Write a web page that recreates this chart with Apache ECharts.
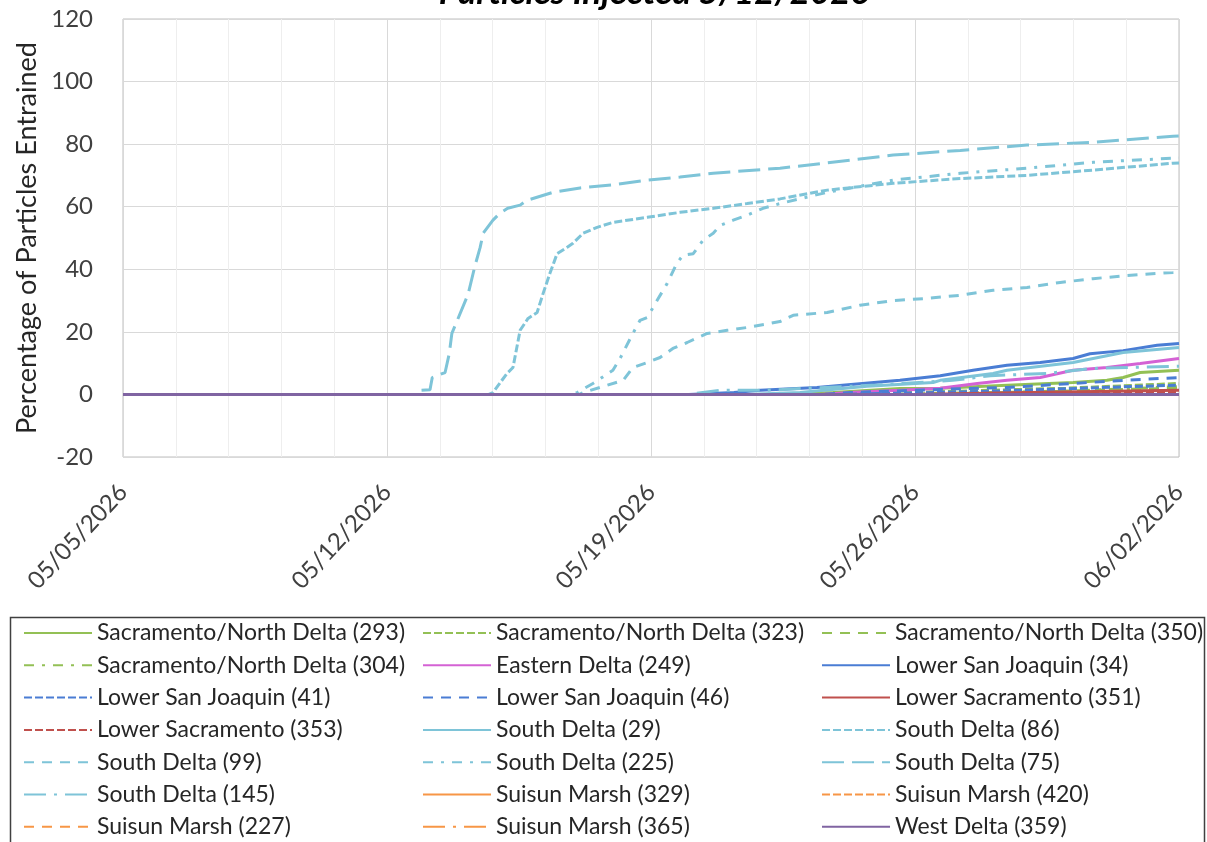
<!DOCTYPE html>
<html>
<head>
<meta charset="utf-8">
<script src="https://cdn.jsdelivr.net/npm/echarts@6/dist/echarts.min.js"></script>
<style>
html,body{margin:0;padding:0;background:#fff;}
#chart{width:1207px;height:842px;}
</style>
</head>
<body>
<div id="chart"></div>
<script>
// x values are days since 05/05/2026 00:00
const xTickLabels = ['05/05/2026','05/12/2026','05/19/2026','05/26/2026','06/02/2026'];
const yTickLabels = [-20,0,20,40,60,80,100,120];

const sn293 = [[0,0],[17.5,0],[18.83,0.6],[20.6,1.9],[21.67,2],[23.44,2.9],[25.19,3.8],[26.09,4.5],[26.52,5.4],[26.97,7],[28,7.7]];
const sn323 = [[0,0],[19,0],[22,1],[25,2],[28,3.5]];
const sn350 = [[0,0],[20,0],[24,0.8],[28,2]];
const sn304 = [[0,0],[21,0],[25,1],[28,2.5]];
const ed249 = [[0,0],[18.5,0],[19.28,0.6],[20.6,1.3],[21.67,2],[22.65,3.5],[23.44,4.5],[24.32,5.4],[25.19,7.7],[26.09,8.6],[26.97,9.9],[28,11.5]];
const lsj34 = [[0,0],[15,0],[16.2,0.6],[16.9,1.3],[18.4,2.2],[19.3,3.2],[20.6,4.5],[21.67,6],[22.54,7.7],[23.44,9.3],[24.32,10.2],[25.19,11.5],[25.64,13],[26.52,14],[27.42,15.7],[28,16.3]];
const lsj41 = [[0,0],[19,0],[23,1],[28,3]];
const lsj46 = [[0,0],[18.5,0],[19.3,0.6],[21.67,1.6],[23.44,2.2],[25.19,3.5],[26.52,4.5],[28,5.4]];
const lsac351 = [[0,0],[21,0],[24,0.6],[28,1.3]];
const lsac353 = [[0,0],[22,0],[28,0.6]];
const sd29 = [[0,0],[16.5,0],[17.95,0.6],[19.73,2.6],[21.48,3.8],[21.67,4.5],[23.07,6.7],[23.44,7.7],[25.19,10.2],[26.52,13.4],[28,15]];
const sd86 = [[0,0],[9.7,0],[9.81,0.6],[10.18,6.7],[10.34,8.6],[10.53,20.5],[10.74,24.3],[10.98,26.2],[11.14,32.3],[11.32,38.7],[11.51,45],[11.77,47],[11.93,48.3],[12.2,51.5],[12.57,53.4],[12.99,55],[13.9,56.6],[14.77,58.2],[15.65,59.5],[16.55,61],[17.42,62.5],[18.67,65.3],[20.42,67.5],[22.2,69],[23.97,70],[25.72,71.7],[27.84,73.9],[28,74]];
const sd99 = [[0,0],[12.1,0],[12.2,0.6],[12.83,2.9],[13.26,4.5],[13.52,8.6],[13.9,10.2],[14.24,11.8],[14.58,14.7],[14.96,16.6],[15.49,19.5],[16.02,20.5],[16.55,21.4],[17.42,23.3],[17.77,25.3],[18.67,26.2],[19.54,28.5],[20.42,30],[21.32,30.7],[22.2,31.7],[23.07,33.3],[23.97,34.2],[24.85,35.8],[25.72,37],[26.62,38],[27.84,39],[28,39.2]];
const sd225 = [[0,0],[11.9,0],[12.04,0.6],[12.46,3.5],[12.99,7.7],[13.18,11.5],[13.52,19.5],[13.71,23.7],[13.9,24.6],[14.16,30],[14.43,35.5],[14.69,42],[14.85,44.5],[15.12,45],[15.38,49.3],[15.65,51.5],[15.83,54],[16.18,55.7],[16.55,57.3],[16.97,59.5],[17.42,61],[18.67,64.6],[20.42,68.5],[22.2,70.7],[23.97,72.3],[25.72,74.2],[27.84,75.5],[28,75.6]];
const sd75 = [[0,0],[7.75,0],[7.88,1.3],[8.14,1.5],[8.2,5.4],[8.54,7],[8.65,13],[8.72,19.5],[9.15,32],[9.33,41],[9.47,47],[9.55,51.5],[9.81,55.7],[10.0,58],[10.2,59.5],[10.53,60.5],[10.7,62],[11.4,64.6],[12.12,66],[12.99,67],[13.9,68.5],[14.77,69.5],[15.65,70.7],[17.42,72.3],[18.67,74],[20.42,76.5],[22.2,78],[23.97,79.7],[25.72,80.6],[27.84,82.5],[28,82.6]];
const sd145 = [[0,0],[15,0],[15.8,1.3],[17,1.3],[18,1.9],[20,3],[22,4.5],[23,6],[24.5,6.7],[25.7,8.3],[28,9]];
const sm329 = [[0,0],[28,0]];
const sm420 = [[0,0],[28,0]];
const sm227 = [[0,0],[28,0]];
const sm365 = [[0,0],[28,0]];
const wd359 = [[0,0],[28,0]];

const C_GREEN = '#93C055', C_MAG = '#D462D4', C_BLUE = '#4A7DD4', C_RED = '#C0504D',
      C_CYAN = '#7EC4D8', C_ORANGE = '#F79646', C_PURPLE = '#8064A2';
const SOLID = 'solid', SYSDASH = [8,3], DASH = [10,8], DASHDOT = [10,8,3,8], LGDASH = [22,8], LGDASHDOT = [22,8,3,8];

const seriesDefs = [
  ['Sacramento/North Delta (293)', sn293, C_GREEN, SOLID],
  ['Sacramento/North Delta (323)', sn323, C_GREEN, SYSDASH],
  ['Sacramento/North Delta (350)', sn350, C_GREEN, DASH],
  ['Sacramento/North Delta (304)', sn304, C_GREEN, DASHDOT],
  ['Eastern Delta (249)', ed249, C_MAG, SOLID],
  ['Lower San Joaquin (34)', lsj34, C_BLUE, SOLID],
  ['Lower San Joaquin (41)', lsj41, C_BLUE, SYSDASH],
  ['Lower San Joaquin (46)', lsj46, C_BLUE, DASH],
  ['Lower Sacramento (351)', lsac351, C_RED, SOLID],
  ['Lower Sacramento (353)', lsac353, C_RED, SYSDASH],
  ['South Delta (29)', sd29, C_CYAN, SOLID],
  ['South Delta (86)', sd86, C_CYAN, SYSDASH],
  ['South Delta (99)', sd99, C_CYAN, DASH],
  ['South Delta (225)', sd225, C_CYAN, DASHDOT],
  ['South Delta (75)', sd75, C_CYAN, LGDASH],
  ['South Delta (145)', sd145, C_CYAN, LGDASHDOT],
  ['Suisun Marsh (329)', sm329, C_ORANGE, SOLID],
  ['Suisun Marsh (420)', sm420, C_ORANGE, SYSDASH],
  ['Suisun Marsh (227)', sm227, C_ORANGE, DASH],
  ['Suisun Marsh (365)', sm365, C_ORANGE, LGDASHDOT],
  ['West Delta (359)', wd359, C_PURPLE, SOLID]
];

const names = seriesDefs.map(d => d[0]);
const col = k => names.filter((n, i) => i % 3 === k);

const FONT = 'Lato, "Open Sans", sans-serif';
const legendBase = {
  orient: 'vertical', top: 620, height: 240, padding: 0,
  itemWidth: 68, itemHeight: 14, itemGap: 6.3,
  selectedMode: false,
  itemStyle: { opacity: 0 },
  textStyle: { fontSize: 23, fontFamily: FONT, color: '#262626', lineHeight: 26 }
};

const chart = echarts.init(document.getElementById('chart'), null, { renderer: 'canvas' });
chart.setOption({
  animation: false,
  backgroundColor: '#fff',
  grid: { left: 123, right: 28, top: 19, bottom: 385, show: true, borderColor: '#bfbfbf', borderWidth: 1, containLabel: false },
  xAxis: {
    type: 'value', min: 0, max: 28, interval: 7,
    axisLine: { show: false }, axisTick: { show: false },
    axisLabel: { rotate: 47, margin: 31, fontSize: 24, fontFamily: FONT, color: '#404040',
      formatter: v => xTickLabels[Math.round(v / 7)] },
    splitLine: { show: true, lineStyle: { color: '#d9d9d9', width: 1 } },
    minorTick: { show: false, splitNumber: 5 },
    minorSplitLine: { show: true, lineStyle: { color: '#eeeeee', width: 1 } }
  },
  yAxis: {
    type: 'value', min: yTickLabels[0], max: yTickLabels[yTickLabels.length - 1], interval: 20,
    axisLine: { show: false }, axisTick: { show: false },
    axisLabel: { margin: 30, fontSize: 24, fontFamily: FONT, color: '#404040' },
    splitLine: { show: true, lineStyle: { color: '#d9d9d9', width: 1 } },
    name: 'Percentage of Particles Entrained', nameLocation: 'middle', nameGap: 81,
    nameTextStyle: { fontSize: 27, fontFamily: FONT, color: '#262626' }
  },
  legend: [
    Object.assign({}, legendBase, { left: 23, data: col(0) }),
    Object.assign({}, legendBase, { left: 422, data: col(1) }),
    Object.assign({}, legendBase, { left: 821, data: col(2) })
  ],
  graphic: [
    { type: 'rect', shape: { x: 10.5, y: 617.5, width: 1194, height: 240 },
      style: { fill: null, stroke: '#404040', lineWidth: 1.5 }, silent: true },
    { type: 'text', x: 654, y: 10,
      style: { text: 'Particles Injected 5/12/2026', font: 'italic bold 35px Lato, sans-serif', fill: '#000',
               textAlign: 'center', textVerticalAlign: 'bottom' }, silent: true }
  ],
  series: seriesDefs.map(d => ({
    name: d[0], type: 'line', data: d[1], symbol: 'none', showSymbol: false,
    color: d[2], lineStyle: { color: d[2], width: 3, type: d[3] }, z: 2
  }))
});
</script>
</body>
</html>
